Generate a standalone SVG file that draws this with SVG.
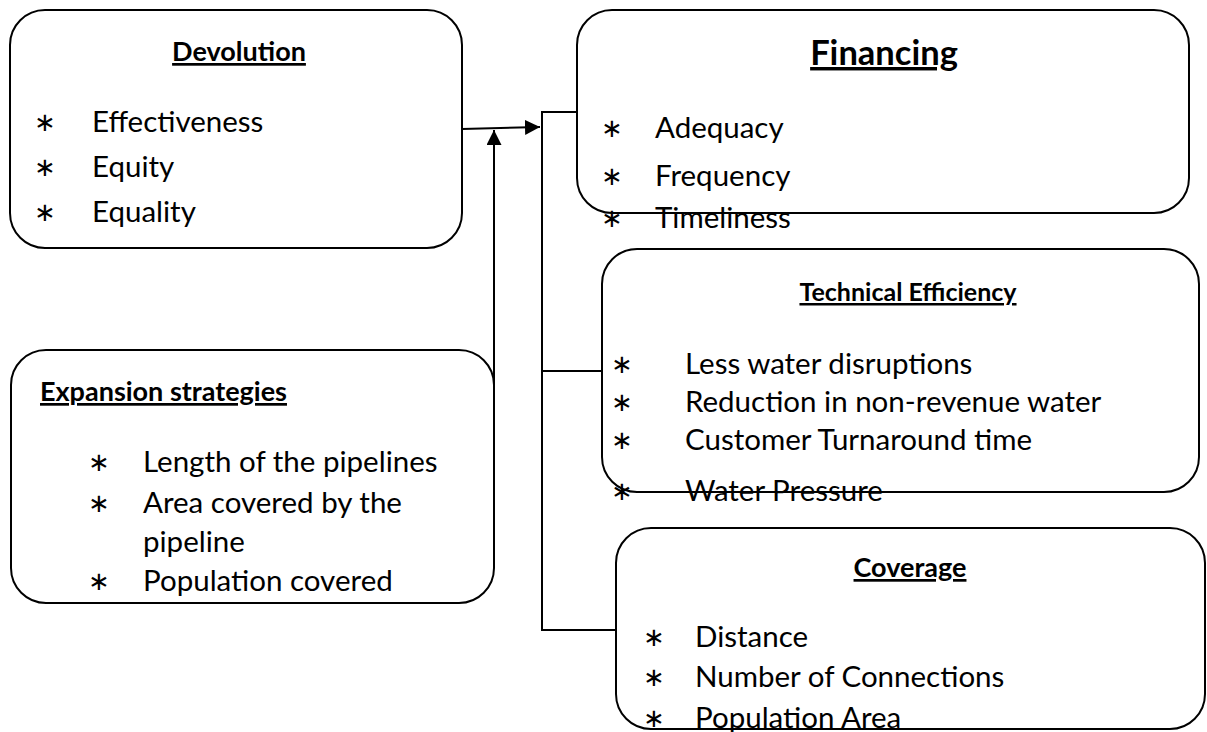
<svg xmlns="http://www.w3.org/2000/svg" width="1207" height="732" viewBox="0 0 1207 732">
<style>
.box{fill:none;stroke:#000;stroke-width:2}
.t{font-family:Lato,"Open Sans","Liberation Sans",sans-serif;font-size:29.5px;fill:#000}
.h{font-family:Lato,"Open Sans","Liberation Sans",sans-serif;font-weight:bold;fill:#000;text-decoration:underline}
.a{font-family:"DejaVu Sans",sans-serif;font-size:26px;fill:#000;text-anchor:middle}
.c{fill:none;stroke:#000;stroke-width:2}
</style>
<defs>
<marker id="ah" viewBox="0 0 10 10" refX="10" refY="5" markerWidth="15" markerHeight="15" markerUnits="userSpaceOnUse" orient="auto">
<path d="M0,0 L10,5 L0,10 z" fill="#000"/>
</marker>
</defs>
<g id="devolution">
<rect class="box" x="10" y="10" width="452" height="238" rx="35"/>
<text class="h" x="239" y="61" font-size="27" text-anchor="middle">Devolution</text>
<text class="a" x="45" y="131">∗</text><text class="t" x="92" y="132">Effectiveness</text>
<text class="a" x="45" y="176">∗</text><text class="t" x="92" y="177">Equity</text>
<text class="a" x="45" y="221">∗</text><text class="t" x="92" y="222">Equality</text>
</g>
<g id="financing">
<rect class="box" x="577" y="10" width="612" height="203" rx="35"/>
<text class="h" x="884" y="65" font-size="34.5" text-anchor="middle">Financing</text>
<text class="a" x="612" y="137">∗</text><text class="t" x="655" y="138">Adequacy</text>
<text class="a" x="612" y="185">∗</text><text class="t" x="655" y="186">Frequency</text>
<text class="a" x="612" y="227">∗</text><text class="t" x="655" y="228">Timeliness</text>
</g>
<g id="technical">
<rect class="box" x="602" y="249" width="597" height="243" rx="35"/>
<text class="h" x="908" y="301" font-size="25" text-anchor="middle">Technical Efficiency</text>
<text class="a" x="622" y="373">∗</text><text class="t" x="685" y="374">Less water disruptions</text>
<text class="a" x="622" y="411">∗</text><text class="t" x="685" y="412">Reduction in non-revenue water</text>
<text class="a" x="622" y="449">∗</text><text class="t" x="685" y="450">Customer Turnaround time</text>
<text class="a" x="622" y="500">∗</text><text class="t" x="685" y="501">Water Pressure</text>
</g>
<g id="coverage">
<rect class="box" x="616" y="528" width="589" height="201" rx="35"/>
<text class="h" x="910" y="577" font-size="27" text-anchor="middle">Coverage</text>
<text class="a" x="654" y="646">∗</text><text class="t" x="695" y="647">Distance</text>
<text class="a" x="654" y="686">∗</text><text class="t" x="695" y="687">Number of Connections</text>
<text class="a" x="654" y="727">∗</text><text class="t" x="695" y="728">Population Area</text>
</g>
<g id="expansion">
<rect class="box" x="11" y="350" width="483" height="253" rx="35"/>
<text class="h" x="40" y="401" font-size="27">Expansion strategies</text>
<text class="a" x="99" y="471">∗</text><text class="t" x="143" y="472">Length of the pipelines</text>
<text class="a" x="99" y="512">∗</text><text class="t" x="143" y="513">Area covered by the</text>
<text class="t" x="143" y="552">pipeline</text>
<text class="a" x="99" y="590">∗</text><text class="t" x="143" y="591">Population covered</text>
</g>
<g id="connectors">
<line class="c" x1="462" y1="129" x2="540" y2="127" marker-end="url(#ah)"/>
<line class="c" x1="494" y1="387" x2="494" y2="130" marker-end="url(#ah)"/>
<polyline class="c" points="577,112 542,112 542,630 616,630"/>
<line class="c" x1="542" y1="371" x2="602" y2="371"/>
</g>
</svg>
